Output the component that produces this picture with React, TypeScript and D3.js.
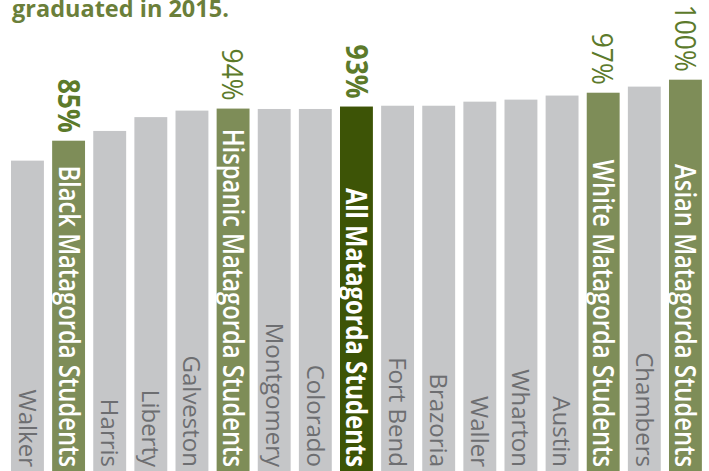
import React from "react";
import * as d3 from "d3";

// graduation rate by county / Matagorda student group, 2015
const categories = [
  "Walker",
  "Black Matagorda Students",
  "Harris",
  "Liberty",
  "Galveston",
  "Hispanic Matagorda Students",
  "Montgomery",
  "Colorado",
  "All Matagorda Students",
  "Fort Bend",
  "Brazoria",
  "Waller",
  "Wharton",
  "Austin",
  "White Matagorda Students",
  "Chambers",
  "Asian Matagorda Students",
];
const rates = [80.1, 85, 87.4, 90.8, 92.4, 92.9, 92.8, 92.8, 93.4, 93.6, 93.6, 94.6, 95.1, 96.1, 96.8, 98.3, 100];
const kinds = [
  "county", "group", "county", "county", "county", "group", "county", "county", "total",
  "county", "county", "county", "county", "county", "group", "county", "group",
];
// printed percentages above the Matagorda bars
const printed = [null, 85, null, null, null, 94, null, null, 93, null, null, null, null, null, 97, null, 100];
const title = "graduated in 2015.";

const W = 709;
const H = 471;
const FONT = "'Open Sans', 'Noto Sans', sans-serif";

const fills: Record<string, string> = { county: "#c5c6c8", group: "#7e8d58", total: "#3d5406" };

const App = () => {
  const x = d3
    .scaleBand()
    .domain(categories)
    .range([6.9, 706])
    .paddingInner(0.2)
    .paddingOuter(0.1);
  const y = d3.scaleLinear().domain([0, 100]).range([486.4, 79.7]);
  const bw = x.bandwidth();

  return (
    <svg
      width={W}
      height={H}
      style={{ position: "absolute", left: 0, top: 0, fontFamily: FONT }}
    >
      <text x={12} y={16.7} fontSize={23.5} fontWeight={700} fill="#6b7f3a">
        {title}
      </text>
      {categories.map((c, i) => {
        const cx = (x(c) as number) + bw / 2;
        const top = y(rates[i]);
        const kind = kinds[i];
        const isCounty = kind === "county";
        return (
          <g key={c}>
            <rect x={x(c)} y={top} width={bw} height={y(0) - top} fill={fills[kind]} />
            {/* bar name, rotated, sitting on the bottom edge */}
            <g transform={`translate(${cx},467) rotate(90) scale(${isCounty ? 1 : 0.85},1)`}>
              <text
                textAnchor="end"
                dy="0.36em"
                fontSize={isCounty ? 24 : 28}
                fontWeight={isCounty ? 400 : kind === "total" ? 700 : 600}
                fill={isCounty ? "#6d6e71" : "#ffffff"}
              >
                {c}
              </text>
            </g>
            {printed[i] != null && (
              <g transform={`translate(${cx},${top - 8}) rotate(90) scale(0.88,1)`}>
                <text
                  textAnchor="end"
                  dy="0.36em"
                  fontSize={30}
                  fontWeight={i === 1 || kind === "total" ? 700 : 500}
                  fill="#5c7a2b"
                >
                  {printed[i]}%
                </text>
              </g>
            )}
          </g>
        );
      })}
    </svg>
  );
};

export default App;
